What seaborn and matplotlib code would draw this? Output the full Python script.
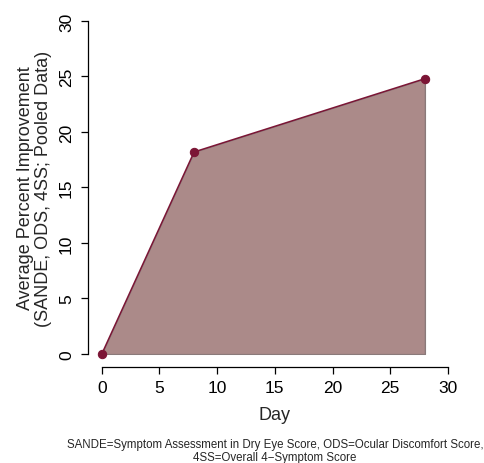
import pandas as pd
import numpy as np
import matplotlib
matplotlib.use('Agg')
import matplotlib.pyplot as plt
import seaborn as sns

# data
day = [0, 8, 28]
improvement = [0, 18.2, 24.8]
x_ticks = [0, 5, 10, 15, 20, 25, 30]
y_ticks = [0, 5, 10, 15, 20, 25, 30]

df = pd.DataFrame({'Day': day, 'Improvement': improvement})

sns.set_style('white')
plt.rcParams['font.family'] = ['Liberation Sans', 'DejaVu Sans']

line_col = '#7B1535'
fill_col = '#AB8A89'

fig = plt.figure(figsize=(4.85, 4.64), dpi=100)
ax = fig.add_axes([0.1814, 0.2063, 0.7706, 0.775])

# shaded area under the curve, closed at the last day
ax.fill_between(df['Day'], 0, df['Improvement'], color=fill_col,
                edgecolor='#8a7a7a', linewidth=0.8, zorder=1)
ax.plot([day[-1], day[-1]], [0, improvement[-1]], color='#8a7a7a', lw=0.8, zorder=1)
sns.lineplot(data=df, x='Day', y='Improvement', color=line_col, lw=1.1,
             marker='o', markersize=6, markeredgecolor=line_col, ax=ax, zorder=3)

ax.set_xlim(-1.2, 31.2)
ax.set_ylim(-1.2, 31.2)
ax.set_xticks(x_ticks)
ax.set_yticks(y_ticks)
ax.set_yticklabels([str(t) for t in y_ticks], rotation=90, va='center')

for s in ['top', 'right']:
    ax.spines[s].set_visible(False)
ax.spines['left'].set_bounds(0, 30)
ax.spines['bottom'].set_bounds(0, 30)
for s in ['left', 'bottom']:
    ax.spines[s].set_color('black')
    ax.spines[s].set_linewidth(0.9)

ax.tick_params(axis='both', direction='out', length=5, width=0.9, color='black',
               labelsize=12.5, labelcolor='black', left=True, bottom=True)
ax.tick_params(axis='y', pad=5)
ax.tick_params(axis='x', pad=4)

ax.set_xlabel('Day', fontsize=13, labelpad=8)
ax.set_ylabel('Average Percent Improvement\n(SANDE, ODS, 4SS; Pooled Data)',
              fontsize=13, labelpad=5, linespacing=1.05)

fig.text(0.567, 0.027,
         'SANDE=Symptom Assessment in Dry Eye Score, ODS=Ocular Discomfort Score,\n4SS=Overall 4\u2212Symptom Score',
         ha='center', va='center', fontsize=8.3, linespacing=1.15)

fig.savefig('out.png', dpi=100, facecolor='white')
